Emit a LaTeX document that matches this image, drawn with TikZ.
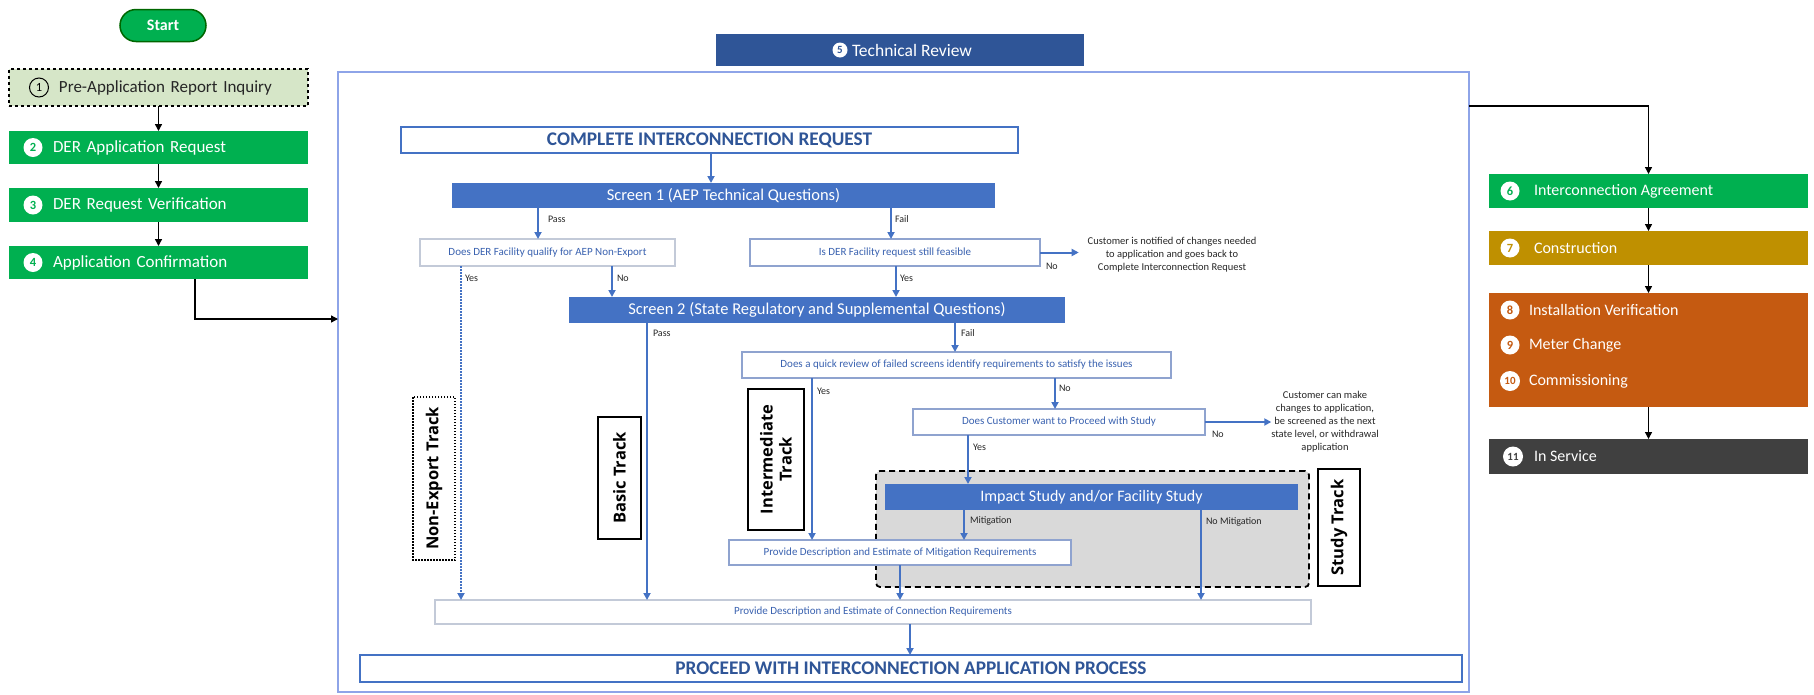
\documentclass[tikz,border=0pt]{standalone}
\usepackage{fontspec}
\setmainfont{Carlito}
\newfontfamily\osans{Open Sans}
\usetikzlibrary{arrows.meta,calc}
\definecolor{bblue}{HTML}{4472C4}
\definecolor{dblue}{HTML}{2F5597}
\definecolor{ggreen}{HTML}{00B050}
\definecolor{gold}{HTML}{BF9000}
\definecolor{rust}{HTML}{C55A11}
\definecolor{dgray}{HTML}{404040}
\definecolor{framec}{HTML}{8EA4E8}
\definecolor{lgreen}{HTML}{D6E6C8}
\definecolor{boxline}{HTML}{8FA3CF}
\definecolor{boxlight}{HTML}{C3CAD8}
\definecolor{txtblue}{HTML}{3A62B0}
\definecolor{studyg}{HTML}{D9D9D9}
\begin{document}
\begin{tikzpicture}[x=1pt,y=-1pt,
  every node/.style={inner sep=0pt,outer sep=0pt},
  arr/.style={draw=bblue,line width=2pt,-{Triangle[length=7pt,width=7pt]}},
  karr/.style={draw=black,line width=1.4pt,-{Triangle[length=7pt,width=7pt]}},
  side/.style={rectangle,fill=#1,minimum width=299pt,minimum height=34pt,text width=299pt,align=left,text=white,font=\fontsize{17}{20}\selectfont},
  rbox/.style={rectangle,fill=#1,minimum width=319pt,minimum height=34pt},
  rtxt/.style={anchor=west,text=white,font=\fontsize{16}{18}\selectfont},
  numc/.style={circle,fill=white,text=#1,font=\bfseries\fontsize{12.5}{12}\selectfont,minimum size=19pt},
  numcc/.style={numc=#1,font=\bfseries\fontsize{11}{11}\selectfont,minimum size=20pt},
  bar/.style={rectangle,fill=bblue,text=white,font=\fontsize{16.5}{19}\selectfont},
  qbox/.style={rectangle,draw=boxline,line width=1.2pt,fill=white,text=txtblue,font=\fontsize{11}{13}\selectfont},
  bigbox/.style={rectangle,draw=bblue,line width=2pt,fill=white,text=dblue,font=\bfseries\fontsize{19.3}{22}\selectfont},
  lab/.style={anchor=west,font=\fontsize{10}{12}\selectfont,text=black!85},
  note/.style={align=center,font=\fontsize{10.5}{13}\selectfont,text=black!85},
  track/.style={rectangle,draw=black,line width=1.8pt,rotate=90,align=center,font=\osans\bfseries\fontsize{16.5}{19}\selectfont},
]
\useasboundingbox (0,0) rectangle (1814,694);

% ---------- left column ----------
\node[rounded corners=16pt,fill=ggreen,draw=green!40!black,line width=1.5pt,minimum width=86pt,minimum height=32pt,text=white,font=\bfseries\fontsize{16}{18}\selectfont] (start) at (163,25.5) {Start};
\node[side=lgreen,draw=black,dashed,line width=1.6pt,text=black!85,minimum height=37pt] (pre) at (158.5,87.5) {\hspace*{50pt}Pre-Application Report Inquiry};
\node[circle,draw=black,line width=1pt,minimum size=19pt,font=\fontsize{12.5}{12}\selectfont] (n1) at (39,87.5) {1};
\node[side=ggreen,minimum height=33pt] (b2) at (158.5,147.5) {\hspace*{44pt}DER Application Request};
\node[numc=ggreen] (n2) at (33,147.5) {2};
\node[side=ggreen] (b3) at (158.5,205) {\hspace*{44pt}DER Request Verification};
\node[numc=ggreen] (n3) at (33,205) {3};
\node[side=ggreen,minimum height=33pt] (b4) at (158.5,262.5) {\hspace*{44pt}Application Confirmation};
\node[numc=ggreen] (n4) at (33,262.5) {4};
\draw[karr] (pre.south) -- (b2.north);
\draw[karr] (b2.south) -- (b3.north);
\draw[karr] (b3.south) -- (b4.north);

% ---------- frame ----------
\node[draw=framec,line width=1.8pt,minimum width=1131pt,minimum height=620pt] (frame) at (903.5,382) {};
\node[fill=dblue,minimum width=368pt,minimum height=32pt] (trh) at (900,50) {};
\node[numc=dblue,minimum size=15pt,font=\bfseries\fontsize{11}{11}\selectfont] (n5) at (840,50) {5};
\node[anchor=west,text=white,font=\fontsize{17.5}{20}\selectfont] (trt) at (852,50) {Technical Review};
\draw[karr] ([xshift=36.5pt]b4.south) |- ([yshift=63pt]frame.west);

% ---------- right column ----------
\node[rbox=ggreen] (ia) at (1648.5,191) {};
\node[numc=ggreen] (n6) at (1510,191) {6};
\node[rtxt] (t6) at (1534,191) {Interconnection Agreement};
\node[rbox=gold] (con) at (1648.5,248) {};
\node[numc=gold] (n7) at (1510,248) {7};
\node[rtxt] (t7) at (1534,248) {Construction};
\node[rbox=rust,minimum height=114pt] (ivc) at (1648.5,350) {};
\node[numc=rust] (n8) at (1510,310) {8};
\node[rtxt] (t8) at (1529,310) {Installation Verification};
\node[numc=rust] (n9) at (1510,345) {9};
\node[rtxt] (t9) at (1529,345) {Meter Change};
\node[numcc=rust] (n10) at (1510,381) {10};
\node[rtxt] (t10) at (1529,381) {Commissioning};
\node[rbox=dgray,minimum height=35pt] (svc) at (1648.5,456.5) {};
\node[numcc=dgray] (n11) at (1513,456.5) {11};
\node[rtxt] (t11) at (1534,456.5) {In Service};
\draw[karr] ([yshift=276pt]frame.east) -| (ia.north);
\draw[karr] (ia.south) -- (con.north);
\draw[karr] (con.south) -- (ivc.north);
\draw[karr] (ivc.south) -- (svc.north);

% ---------- technical review content ----------
\node[draw=black,line width=1.8pt,dash pattern=on 6pt off 4pt,fill=studyg,rounded corners=4pt,minimum width=433pt,minimum height=116pt] (studyreg) at (1092.5,529) {};

\node[bigbox,minimum width=617pt,minimum height=26pt] (cir) at (709.5,140) {COMPLETE INTERCONNECTION REQUEST};
\node[bar,minimum width=543pt,minimum height=25pt] (s1) at (723.5,195.5) {Screen 1 (AEP Technical Questions)\hspace{30pt}};
\node[qbox,draw=boxlight,minimum width=255pt,minimum height=27pt] (dder) at (547.5,252.5) {Does DER Facility qualify for AEP Non-Export};
\node[qbox,minimum width=290pt,minimum height=27pt] (isder) at (895,252.5) {Is DER Facility request still feasible};
\node[note] (notif) at (1172,255) {Customer is notified of changes needed\\to application and goes back to\\Complete Interconnection Request};
\node[bar,minimum width=496pt,minimum height=26pt] (s2) at (817,310) {Screen 2 (State Regulatory and Supplemental Questions)};
\node[qbox,minimum width=429pt,minimum height=26pt] (qr) at (956.5,365) {Does a quick review of failed screens identify requirements to satisfy the issues};
\node[qbox,minimum width=292pt,minimum height=26pt] (cust) at (1059,422) {Does Customer want to Proceed with Study};
\node[note] (custnote) at (1325,422) {Customer can make\\changes to application,\\be screened as the next\\state level, or withdrawal\\application};
\node[bar,font=\fontsize{16}{18}\selectfont,minimum width=413pt,minimum height=26pt] (imp) at (1091.5,497) {Impact Study and/or Facility Study};
\node[qbox,minimum width=342pt,minimum height=25pt] (mit) at (900,552.5) {Provide Description and Estimate of Mitigation Requirements};
\node[qbox,draw=boxlight,minimum width=876pt,minimum height=24pt] (conn) at (873,612) {Provide Description and Estimate of Connection Requirements};
\node[bigbox,minimum width=1102pt,minimum height=27pt] (proc) at (911,668.5) {PROCEED WITH INTERCONNECTION APPLICATION PROCESS};

% track labels
\node[track,minimum width=163pt,minimum height=42pt,line width=1.5pt,dash pattern=on 1.5pt off 1.5pt] (tNon) at (434,478.5) {Non-Export Track};
\node[track,minimum width=122pt,minimum height=43pt] (tBasic) at (619.5,478) {Basic Track};
\node[track,minimum width=141pt,minimum height=56pt,font=\osans\bfseries\fontsize{16.5}{19}\selectfont] (tInter) at (776,459.5) {Intermediate\\Track};
\node[track,minimum width=117pt,minimum height=42pt] (tStudy) at (1339,527.5) {Study Track};

% x guides for vertical connectors
\coordinate (xo) at (711,0);
\coordinate (xa) at (538,0);
\coordinate (xb) at (891,0);
\coordinate (xc) at (461,0);
\coordinate (xd) at (612,0);
\coordinate (xe) at (896,0);
\coordinate (xf) at (647,0);
\coordinate (xg) at (955,0);
\coordinate (xh) at (812,0);
\coordinate (xi) at (1055,0);
\coordinate (xj) at (968,0);
\coordinate (xk) at (964,0);
\coordinate (xl) at (1201,0);
\coordinate (xm) at (900,0);
\coordinate (xn) at (910,0);

\draw[arr] (cir.south -| xo) -- (s1.north -| xo);
\draw[arr] (s1.south -| xa) -- (dder.north -| xa);
\draw[arr] (s1.south -| xb) -- (isder.north -| xb);
\draw[arr,dash pattern=on 1.5pt off 1.5pt] (dder.south -| xc) -- (conn.north -| xc);
\draw[arr] (dder.south -| xd) -- (s2.north -| xd);
\draw[arr] (isder.south -| xe) -- (s2.north -| xe);
\draw[arr,shorten >=9pt] (isder.east) -- (isder.east -| notif.west);
\draw[arr] (s2.south -| xf) -- (conn.north -| xf);
\draw[arr] (s2.south -| xg) -- (qr.north -| xg);
\draw[arr] (qr.south -| xh) -- (mit.north -| xh);
\draw[arr] (qr.south -| xi) -- (cust.north -| xi);
\draw[arr] (cust.east) -- (cust.east -| custnote.west);
\draw[arr] (cust.south -| xj) -- (imp.north -| xj);
\draw[arr] (imp.south -| xk) -- (mit.north -| xk);
\draw[arr] (imp.south -| xl) -- (conn.north -| xl);
\draw[arr] (mit.south -| xm) -- (conn.north -| xm);
\draw[arr] (conn.south -| xn) -- (proc.north -| xn);

% connector labels
\node[lab] (lPass1) at (548,219) {Pass};
\node[lab] (lFail1) at (895,219) {Fail};
\node[lab] (lYes1) at (465,278) {Yes};
\node[lab] (lNo1) at (617,278) {No};
\node[lab] (lYes2) at (900,278) {Yes};
\node[lab] (lNo2) at (1046,266) {No};
\node[lab] (lPass2) at (653,333) {Pass};
\node[lab] (lFail2) at (961,333) {Fail};
\node[lab] (lYes3) at (817,391) {Yes};
\node[lab] (lNo3) at (1059,388) {No};
\node[lab] (lNo4) at (1212,434) {No};
\node[lab] (lYes4) at (973,447) {Yes};
\node[lab] (lMit) at (970,521) {Mitigation};
\node[lab] (lNoMit) at (1206,522) {No Mitigation};
\end{tikzpicture}
\end{document}
